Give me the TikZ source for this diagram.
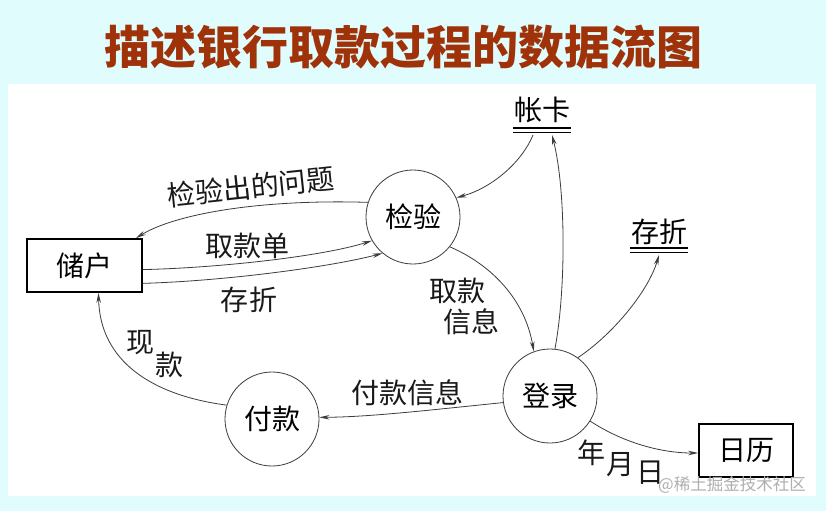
\documentclass[tikz,border=0pt]{standalone}
\usepackage{fontspec}
\setmainfont{Noto Sans CJK SC}
\usetikzlibrary{arrows.meta,calc}
\definecolor{bgc}{RGB}{224,252,253}
\definecolor{titlec}{RGB}{160,50,10}
\definecolor{linec}{RGB}{60,60,60}
\definecolor{wmc}{RGB}{175,175,175}
\tikzset{
  lbl/.style={font=\fontsize{28}{28}\selectfont, text=black!90, inner sep=0pt},
  proc/.style={circle, draw=linec, line width=0.8pt, minimum size=94pt, inner sep=0pt, font=\fontsize{28}{28}\selectfont},
  entity/.style={rectangle, draw=black, line width=1.8pt, inner sep=0pt, font=\fontsize{28}{28}\selectfont},
  storetext/.style={inner sep=0pt, font=\fontsize{28}{28}\selectfont},
  storeline/.style={draw=black, line width=1.3pt},
  flow/.style={draw=linec, line width=0.8pt, -{Stealth[length=10pt,width=4.5pt]}},
  titletext/.style={font=\fontsize{46}{46}\selectfont\bfseries, inner sep=0pt}
}
\begin{document}
\begin{tikzpicture}[x=1pt,y=-1pt]
\useasboundingbox (0,0) rectangle (826,511);
\fill[bgc] (0,0) rectangle (826,511);
\fill[white] (8,84) rectangle (816,496);

% title
\node[titletext, text=titlec] (title) at (403.5,47) {描述银行取款过程的数据流图};

% nodes
\node[entity, minimum width=115pt, minimum height=53pt] (ch) at (84.5,265.5) {储户};
\node[proc] (jy) at (413,217) {检验};
\node[proc] (dl) at (550,396) {登录};
\node[proc] (fk) at (272,419) {付款};
\node[entity, minimum width=94pt, minimum height=53pt] (rl) at (746,450.5) {日历};

% data stores
\node[storetext] (zk) at (542,110) {帐卡};
\draw[storeline] ($(zk.center)+(-29,18)$) -- ($(zk.center)+(29,18)$);
\draw[storeline] ($(zk.center)+(-29,22.5)$) -- ($(zk.center)+(29,22.5)$);
\coordinate (zkA) at ($(zk.center)+(-9,25)$);
\coordinate (zkB) at ($(zk.center)+(10,25)$);

\node[storetext] (cz) at (659,231.5) {存折};
\draw[storeline] ($(cz.center)+(-29,16.5)$) -- ($(cz.center)+(29,16.5)$);
\draw[storeline] ($(cz.center)+(-29,21)$) -- ($(cz.center)+(29,21)$);
\coordinate (czB) at ($(cz.center)+(0,23.5)$);

% flows
\draw[flow] (jy.162) .. controls (260,199) and (175,214) .. (ch.28);
\draw[flow] (ch.-4) .. controls (215,268) and (320,257) .. (jy.210);
\draw[flow] (ch.-17) .. controls (225,281) and (330,267) .. (jy.230);
\draw[flow] (zkA) .. controls (522,162) and (492,188) .. (jy.24);
\draw[flow] (dl.84) .. controls (566,290) and (566,190) .. (zkB);
\draw[flow] (jy.-39) .. controls (492,265) and (525,300) .. (dl.110);
\draw[flow] (dl.54) .. controls (612,335) and (648,292) .. (czB);
\draw[flow] (dl.188) .. controls (430,410) and (370,417) .. (fk.2);
\draw[flow] (fk.163) .. controls (150,395) and (100,360) .. (ch.-63);
\draw[flow] (dl.-32) .. controls (622,442) and (660,453) .. (rl.183);

% labels
\node[lbl, rotate=6] (l1) at (251,187) {检验出的问题};
\node[lbl] (l2) at (247,246) {取款单};
\node[lbl] (l3) at (249,300) {存\hspace{2pt}折};
\node[lbl] (l4a) at (457,291) {取款};
\node[lbl] (l4b) at (471,322) {信息};
\node[lbl] (l5) at (407,393) {付款信息};
\node[lbl] (l6a) at (140,343) {现};
\node[lbl] (l6b) at (169,365) {款};
\node[lbl] (l7a) at (591,453) {年};
\node[lbl] (l7b) at (620,465) {月};
\node[lbl] (l7c) at (650,473) {日};

% watermark
\node[inner sep=0pt, text=wmc, font=\fontsize{16.5}{16.5}\selectfont] (wm) at (732,485) {@稀土掘金技术社区};
\end{tikzpicture}
\end{document}
